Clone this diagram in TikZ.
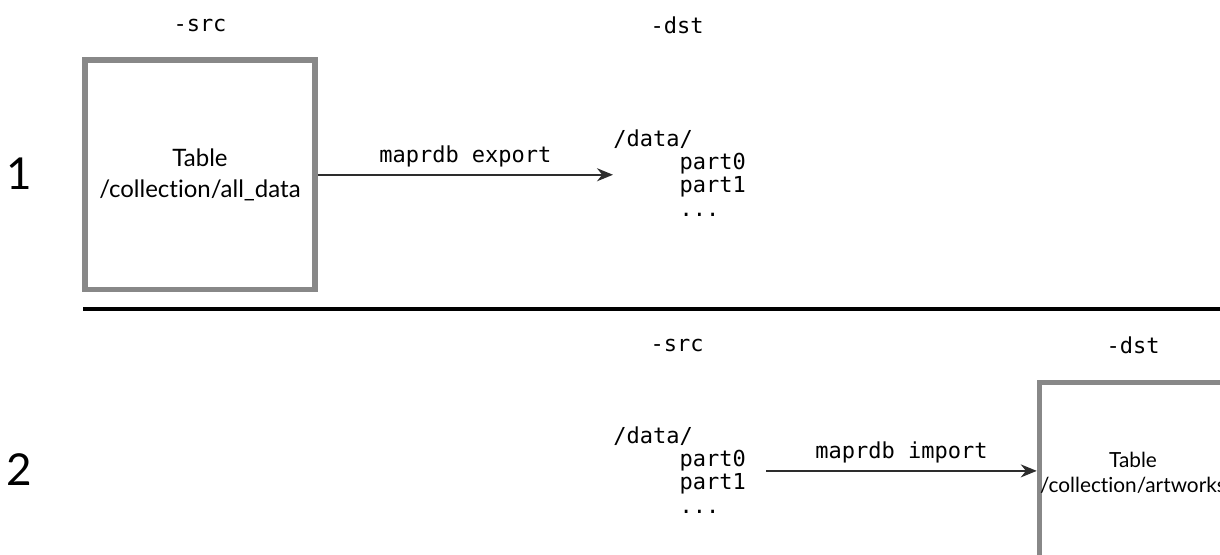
\documentclass[tikz,border=0pt]{standalone}
\usepackage{fontspec}
\usetikzlibrary{arrows.meta,positioning,calc}
\newfontfamily\tblfont{Lato}[Ligatures=NoCommon]
\newfontfamily\codefont{DejaVu Sans Mono}
\definecolor{tblgray}{RGB}{136,136,136}
\definecolor{ink}{RGB}{45,45,45}
\tikzset{
  tbl/.style={draw=tblgray,line width=2.75pt,inner sep=0pt,align=center},
  flag/.style={font=\codefont\fontsize{11}{12}\selectfont},
  listing/.style={font=\codefont\fontsize{11}{11.7}\selectfont,align=left,inner sep=0pt},
  cmd/.style={draw=ink,line width=1pt,-{Stealth[length=8pt,width=6.5pt]}},
  rownum/.style={font=\tblfont\fontsize{22}{22}\selectfont}
}
\newcommand{\ind}{\phantom{/data}}

\begin{document}
\begin{tikzpicture}[x=0.5pt,y=-0.5pt]
    \useasboundingbox (0,0) rectangle (1220,554);
    \clip (0,0) rectangle (1220,554);

    % Row 1: export
    \node[rownum] (num1) at (19,174) {1};
    \node[flag] (src1) at (200,25) {-src};
    \node[flag] (dst1) at (677,25) {-dst};
    \node[tbl,minimum width=115pt,minimum height=114.75pt,
          font=\tblfont\fontsize{12}{15.5}\selectfont] (tbl1) at (200,174.75)
          {Table\\/collection/all\_data};
    \node[listing,anchor=north west] (dir1) at (613,129)
          {/data/\\\ind part0\\\ind part1\\\ind ...};
    \draw[cmd] (tbl1.east) -- (tbl1.east -| dir1.west)
          node[flag,midway,above] (exp) {maprdb export};

    % Separator
    \coordinate (ruleL) at (83,309);
    \coordinate (ruleR) at (1230,309);
    \draw[line width=2pt] (ruleL) -- (ruleR);

    % Row 2: import
    \node[rownum] (num2) at (19,470) {2};
    \node[flag] (src2) at (677,345) {-src};
    \node[flag] (dst2) at (1133,345) {-dst};
    \node[listing,anchor=north west] (dir2) at (613,426)
          {/data/\\\ind part0\\\ind part1\\\ind ...};
    \node[tbl,minimum width=93.5pt,minimum height=90pt,
          font=\tblfont\fontsize{10.4}{12.5}\selectfont] (tbl2) at (1133,472.5)
          {Table\\/collection/artworks};
    \draw[cmd] ([xshift=10pt]dir2.east) -- (dir2.east -| tbl2.west)
          node[flag,midway,above] (imp) {maprdb import};
\end{tikzpicture}
\end{document}
